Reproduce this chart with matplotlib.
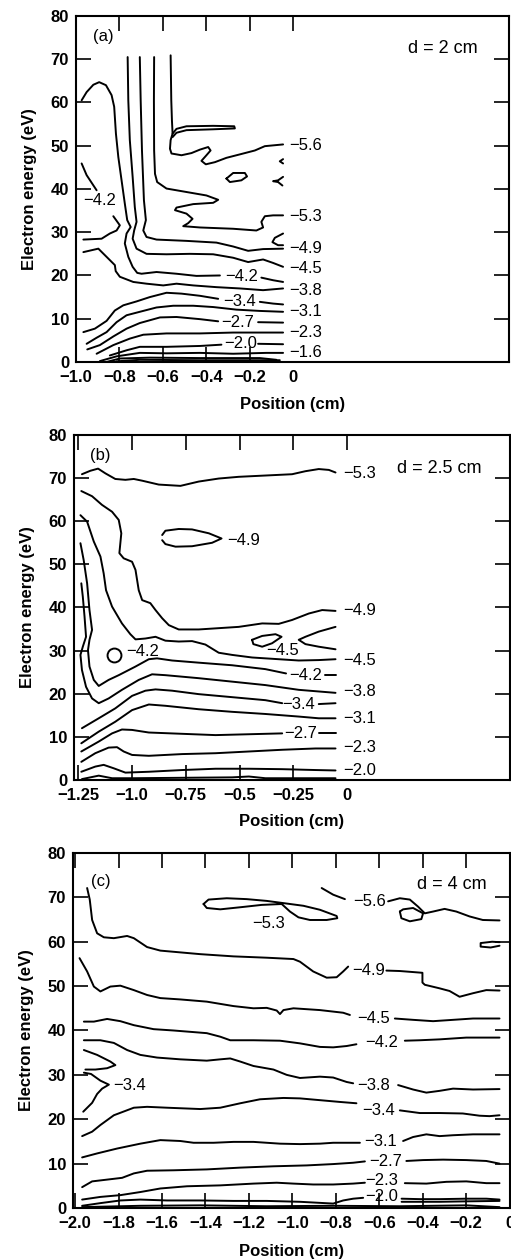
import matplotlib
matplotlib.use('Agg')
import matplotlib.pyplot as plt
from matplotlib.ticker import FixedLocator

plt.rcParams['font.family'] = ['Liberation Sans', 'DejaVu Sans']

MINUS = '\u2212'

# ---------------- (a) d = 2 cm ----------------
a_m56_x = [-0.564, -0.561, -0.558, -0.555, -0.564, -0.567, -0.560, -0.514, -0.468, -0.429, -0.391,
           -0.380, -0.399, -0.422, -0.402, -0.360, -0.307, -0.245, -0.176, -0.130, -0.046]
a_m56_y = [70.9, 60.5, 55.9, 52.8, 51.3, 49.3, 48.2, 47.8, 48.3, 49.1, 49.7,
           48.9, 47.8, 46.5, 45.7, 46.2, 47.2, 48.0, 48.9, 49.9, 50.3]
a_m56_loop_x = [-0.555, -0.537, -0.491, -0.368, -0.271, -0.268, -0.368, -0.491, -0.537, -0.555]
a_m56_loop_y = [52.8, 53.9, 54.5, 54.6, 54.5, 54.0, 53.8, 53.6, 53.0, 52.0]
a_oval_x = [-0.307, -0.276, -0.222, -0.212, -0.238, -0.291, -0.307]
a_oval_y = [42.4, 43.7, 43.7, 42.9, 42.0, 41.6, 42.4]
a_hook1_x = [-0.046, -0.061, -0.046]
a_hook1_y = [46.9, 46.4, 45.9]
a_hook2_x = [-0.046, -0.069, -0.092, -0.069, -0.049]
a_hook2_y = [42.8, 42.0, 41.8, 41.6, 40.8]
a_hook3_x = [-0.046, -0.084, -0.095, -0.069, -0.046]
a_hook3_y = [29.7, 28.7, 27.7, 27.0, 27.0]
a_m53_x = [-0.640, -0.641, -0.640, -0.636, -0.626, -0.583, -0.491, -0.399, -0.345, -0.368, -0.460,
           -0.537, -0.544, -0.491, -0.463, -0.483, -0.506, -0.429, -0.276, -0.169, -0.138, -0.146,
           -0.130, -0.092, -0.046]
a_m53_y = [70.5, 60.5, 48.9, 43.5, 41.6, 40.1, 39.3, 38.5, 37.5, 36.8, 36.5,
           35.7, 35.1, 34.3, 33.1, 32.1, 31.4, 31.1, 30.8, 30.4, 31.1, 32.4,
           33.7, 33.9, 33.9]
a_m49_x = [-0.706, -0.702, -0.696, -0.687, -0.678, -0.690, -0.675, -0.629, -0.491, -0.353, -0.276,
           -0.207, -0.138, -0.046]
a_m49_y = [70.5, 60.5, 48.9, 37.4, 32.8, 30.4, 28.9, 28.3, 28.0, 27.6, 26.7, 25.7, 26.1, 26.2]
a_m45_x = [-0.762, -0.759, -0.752, -0.739, -0.729, -0.721, -0.732, -0.739, -0.721, -0.675, -0.583,
           -0.475, -0.368, -0.276, -0.207, -0.138, -0.092, -0.046]
a_m45_y = [70.5, 60.5, 51.3, 42.8, 35.8, 32.4, 30.4, 28.5, 26.2, 25.0, 24.9,
           25.0, 24.9, 24.1, 23.1, 23.7, 22.9, 22.0]
a_m42_x = [-0.974, -0.951, -0.920, -0.893, -0.862, -0.836, -0.824, -0.816, -0.805, -0.790, -0.775,
           -0.764, -0.748, -0.767, -0.775, -0.759, -0.739, -0.718, -0.698, -0.629, -0.537, -0.445,
           -0.337]
a_m42_y = [60.5, 62.4, 64.1, 64.7, 64.0, 61.7, 59.0, 52.8, 47.4, 42.0, 36.6,
           32.8, 31.2, 29.7, 27.4, 24.3, 22.0, 20.6, 20.4, 20.8, 20.4, 19.9,
           20.0]
a_m42_end_x = [-0.146, -0.092, -0.046]
a_m42_end_y = [19.5, 18.9, 18.5]
a_m42_wall1_x = [-0.974, -0.951, -0.905]
a_m42_wall1_y = [45.9, 43.2, 39.7]
a_m42_wall2_x = [-0.828, -0.798, -0.813, -0.844, -0.882, -0.966]
a_m42_wall2_y = [33.7, 31.6, 30.4, 29.7, 28.5, 28.3]
a_m38_x = [-0.966, -0.897, -0.859, -0.821, -0.817, -0.798, -0.736, -0.675, -0.598, -0.537, -0.460,
           -0.353, -0.245, -0.138, -0.046]
a_m38_y = [25.4, 26.2, 24.3, 22.4, 21.0, 19.7, 18.5, 18.1, 17.7, 18.1, 17.7, 17.3, 17.0, 16.6, 17.0]
a_m34_x = [-0.966, -0.913, -0.859, -0.821, -0.782, -0.721, -0.660, -0.583, -0.514, -0.429, -0.345]
a_m34_y = [6.9, 7.7, 9.5, 11.9, 13.1, 14.0, 15.0, 16.0, 15.8, 15.3, 14.6]
a_m34_end_x = [-0.153, -0.092, -0.046]
a_m34_end_y = [13.9, 13.5, 13.3]
a_m31_x = [-0.951, -0.905, -0.859, -0.813, -0.767, -0.706, -0.629, -0.552, -0.460, -0.368, -0.261,
           -0.153, -0.046]
a_m31_y = [4.2, 5.6, 6.9, 9.2, 10.8, 11.6, 12.6, 13.0, 13.0, 12.7, 12.1, 11.8, 11.6]
a_m27_x = [-0.948, -0.890, -0.828, -0.767, -0.706, -0.613, -0.537, -0.429, -0.345]
a_m27_y = [2.9, 3.9, 5.9, 7.7, 9.0, 10.3, 10.4, 9.9, 9.4]
a_m27_end_x = [-0.161, -0.046]
a_m27_end_y = [9.2, 9.1]
a_m23_x = [-0.905, -0.828, -0.752, -0.690, -0.583, -0.429, -0.276, -0.046]
a_m23_y = [1.9, 3.9, 5.4, 6.3, 6.6, 6.6, 6.8, 6.8]
a_m20_x = [-0.844, -0.767, -0.706, -0.583, -0.429, -0.330]
a_m20_y = [1.5, 2.7, 3.5, 3.5, 3.7, 4.0]
a_m20_end_x = [-0.161, -0.046]
a_m20_end_y = [4.2, 4.1]
a_m16_x = [-0.890, -0.813, -0.706, -0.583, -0.429, -0.276, -0.123, -0.046]
a_m16_y = [0.2, 1.3, 2.1, 2.0, 2.1, 1.9, 2.1, 2.1]
a_m12_x = [-0.859, -0.798, -0.660, -0.429, -0.153, -0.077]
a_m12_y = [0.0, 0.8, 1.0, 0.9, 0.9, 0.5]
a_m08_x = [-0.813, -0.706, -0.429, -0.061]
a_m08_y = [0.15, 0.5, 0.4, 0.4]

A_RIGHT = -0.02
a_labels = [('-5.6', A_RIGHT, 50.1), ('-5.3', A_RIGHT, 33.7), ('-4.9', A_RIGHT, 26.2),
            ('-4.5', A_RIGHT, 21.6), ('-3.8', A_RIGHT, 16.6), ('-3.1', A_RIGHT, 11.6),
            ('-2.3', A_RIGHT, 6.9), ('-1.6', A_RIGHT, 2.1),
            ('-4.2', -0.238, 19.7), ('-3.4', -0.248, 13.9), ('-2.7', -0.253, 9.2),
            ('-2.0', -0.242, 4.2), ('-4.2', -0.893, 37.4)]

# ---------------- (b) d = 2.5 cm ----------------
b_m53_x = [-1.233, -1.194, -1.158, -1.124, -1.078, -1.031, -0.992, -0.953, -0.876, -0.775, -0.690,
           -0.597, -0.504, -0.380, -0.256, -0.194, -0.132, -0.085, -0.054]
b_m53_y = [70.9, 71.7, 72.2, 71.1, 69.8, 69.6, 69.8, 69.4, 68.5, 68.2, 69.2,
           69.9, 70.3, 70.6, 70.9, 71.6, 72.1, 71.9, 71.3]
b_m49_loop_x = [-0.860, -0.845, -0.783, -0.721, -0.643, -0.584, -0.628, -0.721, -0.798, -0.845, -0.860]
b_m49_loop_y = [56.8, 57.8, 58.2, 58.1, 57.2, 56.0, 55.0, 54.2, 54.1, 54.7, 55.6]
b_m49_x = [-1.236, -1.186, -1.140, -1.093, -1.062, -1.050, -1.059, -1.039, -1.000, -0.984, -0.969,
           -0.953, -0.915, -0.891, -0.860, -0.829, -0.783, -0.690, -0.597, -0.504, -0.395, -0.318,
           -0.256, -0.178, -0.116, -0.054]
b_m49_y = [67.0, 65.8, 63.8, 62.2, 60.3, 57.2, 52.6, 51.4, 50.6, 48.7, 44.0,
           41.7, 41.0, 39.4, 37.5, 35.9, 34.9, 34.9, 35.2, 35.5, 36.3, 36.2,
           37.1, 38.6, 39.4, 39.2]
b_m45_x = [-1.240, -1.209, -1.178, -1.147, -1.132, -1.121, -1.093, -1.047, -1.008, -0.984, -0.938,
           -0.891, -0.845, -0.783, -0.721, -0.659, -0.597, -0.535, -0.442, -0.318, -0.225, -0.132,
           -0.054]
b_m45_y = [61.4, 59.9, 55.3, 51.8, 47.9, 44.0, 40.2, 36.3, 33.8, 32.6, 32.8,
           33.2, 32.3, 32.1, 32.2, 31.4, 29.5, 29.0, 28.4, 28.0, 27.7, 27.8,
           28.0]
b_m45_loop_x = [-0.442, -0.395, -0.333, -0.305, -0.349, -0.395, -0.436, -0.442]
b_m45_loop_y = [32.5, 33.4, 33.8, 33.2, 31.7, 30.9, 31.5, 32.5]
b_m45_tip_x = [-0.054, -0.132, -0.194, -0.225, -0.194, -0.132, -0.054]
b_m45_tip_y = [35.5, 34.4, 33.2, 32.5, 31.5, 30.9, 30.3]
b_m42_ring_x0, b_m42_ring_y0 = -1.085, 29.0
b_m42_x = [-1.240, -1.225, -1.209, -1.198, -1.186, -1.198, -1.205, -1.198, -1.178, -1.155, -1.109,
           -1.062, -0.984, -0.922, -0.884, -0.814, -0.690, -0.535, -0.380, -0.284]
b_m42_y = [54.9, 51.0, 45.6, 39.4, 34.8, 32.5, 30.1, 26.3, 23.2, 21.8, 23.2,
           24.3, 26.3, 28.0, 28.2, 27.7, 27.2, 26.6, 25.7, 24.7]
b_m42_end_x = [-0.101, -0.054]
b_m42_end_y = [24.3, 24.3]
b_m38_x = [-1.236, -1.229, -1.221, -1.214, -1.229, -1.240, -1.233, -1.214, -1.186, -1.155, -1.109,
           -1.047, -0.969, -0.907, -0.845, -0.690, -0.535, -0.380, -0.225, -0.054]
b_m38_y = [45.6, 42.5, 37.9, 33.2, 30.9, 29.0, 25.5, 21.6, 18.9, 17.8, 18.9,
           20.9, 23.2, 24.5, 24.3, 23.6, 22.8, 22.0, 20.9, 20.2]
b_m34_x = [-1.233, -1.155, -1.078, -1.000, -0.938, -0.891, -0.814, -0.690, -0.535, -0.380, -0.302]
b_m34_y = [12.0, 14.3, 16.6, 19.5, 20.7, 21.0, 20.7, 19.9, 19.2, 18.5, 17.8]
b_m34_end_x = [-0.132, -0.054]
b_m34_end_y = [17.6, 17.8]
b_m31_x = [-1.236, -1.155, -1.078, -1.000, -0.922, -0.845, -0.690, -0.535, -0.380, -0.225, -0.132,
           -0.054]
b_m31_y = [8.5, 11.2, 13.5, 16.2, 17.5, 17.2, 16.4, 15.8, 15.3, 14.7, 14.3, 14.3]
b_m27_x = [-1.236, -1.155, -1.093, -1.047, -1.000, -0.922, -0.767, -0.612, -0.457, -0.302]
b_m27_y = [6.6, 8.9, 10.8, 11.7, 11.6, 11.0, 10.7, 10.4, 10.6, 10.8]
b_m27_end_x = [-0.132, -0.054]
b_m27_end_y = [10.8, 10.8]
b_m23_x = [-1.236, -1.171, -1.109, -1.070, -1.039, -1.000, -0.922, -0.767, -0.612, -0.457, -0.302,
           -0.147, -0.054]
b_m23_y = [4.2, 6.2, 7.5, 7.6, 6.6, 5.8, 5.6, 6.0, 6.2, 6.6, 7.0, 7.3, 7.3]
b_m20_x = [-1.236, -1.171, -1.132, -1.085, -1.031, -0.922, -0.767, -0.612, -0.457, -0.302, -0.147,
           -0.054]
b_m20_y = [1.9, 3.1, 3.5, 2.7, 1.7, 1.9, 2.3, 2.6, 2.6, 2.5, 2.3, 2.2]
b_m16_x = [-1.233, -1.155, -1.093, -1.000, -0.535, -0.457, -0.380, -0.054]
b_m16_y = [0.2, 1.0, 0.4, 0.4, 0.6, 0.8, 0.4, 0.4]

B_RIGHT = -0.02
b_labels = [('-5.3', B_RIGHT, 71.1), ('-4.9', B_RIGHT, 39.4), ('-4.5', B_RIGHT, 27.8),
            ('-3.8', B_RIGHT, 20.5), ('-3.1', B_RIGHT, 14.3), ('-2.3', B_RIGHT, 7.6),
            ('-2.0', B_RIGHT, 2.3),
            ('-4.9', -0.48, 55.6), ('-4.2', -0.950, 29.8), ('-4.5', -0.302, 30.0),
            ('-4.2', -0.194, 24.3), ('-3.4', -0.225, 17.4), ('-2.7', -0.217, 10.8)]

# ---------------- (c) d = 4 cm ----------------
c_m56_x = [-0.865, -0.812, -0.758]
c_m56_y = [72.1, 70.6, 69.6]
c_m56_end_x = [-0.559, -0.505, -0.459, -0.421, -0.390, -0.352, -0.299, -0.245, -0.184, -0.123, -0.046]
c_m56_end_y = [69.1, 69.8, 69.5, 67.9, 66.4, 66.8, 67.4, 66.8, 65.7, 64.9, 64.8]
c_m56_loop_x = [-0.505, -0.490, -0.444, -0.398, -0.406, -0.459, -0.498, -0.505]
c_m56_loop_y = [66.8, 67.3, 67.6, 66.4, 65.1, 64.6, 65.3, 66.8]
c_m56_hook_x = [-0.046, -0.080, -0.133, -0.133, -0.087, -0.046]
c_m56_hook_y = [59.9, 60.0, 59.7, 58.9, 58.7, 59.1]
c_m53_x = [-1.409, -1.386, -1.302, -1.210, -1.118, -1.041, -0.949, -0.873, -0.796, -0.793, -0.842,
           -0.919, -0.972, -1.011, -1.049, -1.141, -1.234, -1.332, -1.394, -1.409]
c_m53_y = [68.5, 69.5, 69.8, 69.6, 69.2, 68.7, 68.1, 67.2, 65.8, 65.3, 64.9,
           64.9, 65.5, 66.8, 68.5, 68.3, 67.8, 67.3, 67.6, 68.5]
c_m49_x = [-1.945, -1.933, -1.922, -1.899, -1.868, -1.822, -1.761, -1.730, -1.669, -1.608, -1.516,
           -1.424, -1.271, -1.118, -0.995, -0.965, -0.904, -0.842, -0.796, -0.766, -0.743]
c_m49_y = [72.1, 69.5, 64.9, 61.9, 61.0, 60.8, 61.3, 60.8, 58.8, 58.0, 57.6,
           57.2, 56.7, 56.4, 56.1, 55.5, 53.3, 51.9, 52.0, 53.3, 54.4]
c_m49_end_x = [-0.567, -0.505, -0.401, -0.401, -0.390, -0.322, -0.276, -0.230, -0.168, -0.107, -0.046]
c_m49_end_y = [53.5, 53.4, 53.0, 50.8, 50.3, 49.5, 48.9, 47.6, 48.4, 49.1, 49.0]
c_m45_x = [-1.980, -1.945, -1.914, -1.884, -1.838, -1.792, -1.730, -1.669, -1.608, -1.516, -1.394,
           -1.271, -1.179, -1.118, -1.072, -1.057, -1.041, -0.995, -0.873, -0.766, -0.735]
c_m45_y = [56.3, 53.3, 49.9, 48.8, 49.9, 50.1, 49.1, 48.0, 47.3, 47.0, 46.5,
           45.5, 45.0, 45.1, 44.5, 43.7, 44.6, 45.0, 44.6, 44.0, 43.5]
c_m45_end_x = [-0.528, -0.444, -0.352, -0.260, -0.168, -0.046]
c_m45_end_y = [42.7, 42.4, 42.1, 42.4, 42.7, 42.7]
c_m42_x = [-1.960, -1.914, -1.853, -1.792, -1.730, -1.639, -1.547, -1.394, -1.332, -1.286, -1.179,
           -1.057, -0.965, -0.873, -0.812, -0.750, -0.705]
c_m42_y = [42.0, 42.0, 42.6, 42.1, 41.2, 40.3, 40.0, 39.4, 38.6, 37.8, 37.8,
           37.7, 37.1, 36.3, 36.2, 36.5, 36.9]
c_m42_end_x = [-0.482, -0.413, -0.322, -0.199, -0.046]
c_m42_end_y = [37.7, 37.8, 38.0, 38.4, 38.4]
c_m38_x = [-1.960, -1.884, -1.822, -1.761, -1.700, -1.623, -1.516, -1.394, -1.332, -1.286, -1.240,
           -1.179, -1.087, -1.026, -0.965, -0.873, -0.812, -0.750, -0.720]
c_m38_y = [37.8, 37.8, 37.2, 35.6, 34.5, 33.9, 33.5, 33.2, 33.5, 33.7, 33.0,
           32.0, 31.2, 30.0, 29.3, 29.6, 29.4, 28.4, 28.1]
c_m38_end_x = [-0.513, -0.444, -0.383, -0.322, -0.260, -0.168, -0.046]
c_m38_end_y = [27.7, 26.7, 26.0, 26.4, 26.9, 26.7, 26.8]
c_m34_lobe_x = [-1.960, -1.899, -1.838, -1.815, -1.853, -1.907, -1.953]
c_m34_lobe_y = [35.6, 34.5, 33.0, 32.2, 31.5, 31.2, 31.2]
c_m34_wall_x = [-1.960, -1.927, -1.884, -1.845, -1.876, -1.899, -1.922, -1.963]
c_m34_wall_y = [30.5, 30.2, 28.7, 27.8, 26.9, 25.7, 23.7, 21.7]
c_m34_x = [-1.968, -1.922, -1.884, -1.822, -1.730, -1.669, -1.577, -1.424, -1.332, -1.240, -1.149,
           -1.041, -0.965, -0.873, -0.781, -0.705]
c_m34_y = [16.2, 17.2, 18.7, 20.9, 22.6, 22.8, 22.6, 22.3, 22.6, 23.6, 24.5,
           24.8, 24.7, 24.3, 23.9, 23.6]
c_m34_end_x = [-0.505, -0.413, -0.322, -0.215, -0.138, -0.092, -0.046]
c_m34_end_y = [22.0, 21.4, 21.4, 21.3, 20.8, 20.7, 20.9]
c_m31_x = [-1.968, -1.899, -1.807, -1.700, -1.608, -1.516, -1.455, -1.363, -1.271, -1.179, -1.057,
           -0.965, -0.873, -0.812, -0.689]
c_m31_y = [11.4, 12.3, 13.4, 14.5, 15.3, 15.1, 14.7, 14.7, 14.9, 14.9, 14.5,
           14.4, 14.5, 14.7, 14.7]
c_m31_end_x = [-0.490, -0.444, -0.383, -0.322, -0.260, -0.168, -0.046]
c_m31_end_y = [15.1, 16.0, 16.6, 16.2, 16.4, 16.6, 16.6]
c_m27_x = [-1.968, -1.922, -1.853, -1.784, -1.730, -1.669, -1.547, -1.394, -1.240, -1.087, -0.934,
           -0.812, -0.720, -0.666]
c_m27_y = [4.7, 6.0, 6.4, 6.8, 7.8, 8.4, 8.5, 8.7, 9.1, 9.4, 9.6,
           9.9, 10.2, 10.5]
c_m27_end_x = [-0.475, -0.398, -0.306, -0.199, -0.107, -0.046]
c_m27_end_y = [10.6, 10.8, 10.9, 10.8, 10.6, 10.0]
c_m23_x = [-1.968, -1.884, -1.792, -1.700, -1.608, -1.485, -1.332, -1.179, -1.072, -0.995, -0.904,
           -0.812, -0.720, -0.666]
c_m23_y = [1.9, 2.5, 2.9, 3.6, 4.4, 4.9, 5.1, 5.5, 5.7, 5.5, 5.3,
           5.3, 5.5, 5.7]
c_m23_end_x = [-0.482, -0.383, -0.291, -0.199, -0.107, -0.046]
c_m23_end_y = [5.6, 5.5, 5.9, 6.0, 5.6, 5.6]
c_m20_x = [-1.968, -1.884, -1.792, -1.700, -1.577, -1.424, -1.271, -1.118, -0.965, -0.812, -0.766,
           -0.720, -0.674]
c_m20_y = [0.5, 1.1, 1.7, 1.9, 1.7, 1.7, 1.6, 1.6, 1.4, 1.0, 1.7,
           2.1, 2.3]
c_m20_end_x = [-0.497, -0.413, -0.322, -0.199, -0.107, -0.046]
c_m20_end_y = [2.1, 2.0, 2.0, 2.1, 2.1, 1.9]
c_m16_x = [-0.497, -0.322, -0.199, -0.046]
c_m16_y = [1.4, 1.4, 1.5, 1.6]
c_m12_x = [-1.968, -1.700, -1.424, -1.118, -0.812, -0.505, -0.199, -0.046]
c_m12_y = [0.2, 0.5, 0.6, 0.4, 0.5, 0.4, 0.6, 0.2]

c_labels = [('-5.6', -0.643, 69.1), ('-5.3', -1.110, 64.2), ('-4.9', -0.651, 53.6),
            ('-4.5', -0.628, 42.7), ('-4.2', -0.590, 37.2), ('-3.8', -0.625, 27.7),
            ('-3.4', -1.749, 27.7), ('-3.4', -0.602, 22.0), ('-3.1', -0.594, 15.0),
            ('-2.7', -0.571, 10.4), ('-2.3', -0.590, 6.1), ('-2.0', -0.590, 2.6)]

y_ticks = [0, 10, 20, 30, 40, 50, 60, 70, 80]


def fmt(v):
    return v.replace('-', MINUS)


def setup_axes(ax, xlim, xticks, xticklabels, tag, tag_xy, dlabel, dlabel_xy):
    ax.set_xlim(*xlim)
    ax.set_ylim(0, 80)
    ax.xaxis.set_major_locator(FixedLocator(xticks))
    ax.set_xticklabels([fmt(t) for t in xticklabels], fontsize=12, fontweight='bold')
    ax.yaxis.set_major_locator(FixedLocator(y_ticks))
    ax.set_yticklabels([str(t) for t in y_ticks], fontsize=12, fontweight='bold')
    ax.tick_params(direction='in', length=11, width=1.2, top=True, right=True, pad=6)
    ax.tick_params(axis='y', pad=5)
    for sp in ax.spines.values():
        sp.set_linewidth(1.5)
    ax.set_xlabel('Position (cm)', fontsize=12, fontweight='bold')
    ax.set_ylabel('Electron energy (eV)', fontsize=12, fontweight='bold')
    ax.xaxis.set_label_coords(0.5, -0.10)
    ax.yaxis.set_label_coords(-0.09, 0.5)
    ax.text(tag_xy[0], tag_xy[1], tag, fontsize=12, ha='center', va='center')
    ax.text(dlabel_xy[0], dlabel_xy[1], dlabel, fontsize=13, ha='center', va='center')


def draw_lines(ax, lines):
    for xs, ys in lines:
        ax.plot(xs, ys, color='black', lw=1.4, solid_joinstyle='round', solid_capstyle='round')


def draw_labels(ax, labels, right_x):
    for txt, x, y in labels:
        ha = 'left' if x == right_x else 'center'
        ax.text(x, y, fmt(txt), fontsize=12, ha=ha, va='center')


fig = plt.figure(figsize=(5.11, 12.59), dpi=100)

# panel (a)
ax_a = fig.add_axes([0.1487, 0.7125, 0.8483, 0.2748])
setup_axes(ax_a, (-1.0, 0.997), [-1.0, -0.8, -0.6, -0.4, -0.2, 0.0],
           ['-1.0', '-0.8', '-0.6', '-0.4', '-0.2', '0'],
           '(a)', (-0.874, 75.3), 'd = 2 cm', (0.690, 72.4))
a_lines = [(a_m56_x, a_m56_y), (a_m56_loop_x, a_m56_loop_y), (a_oval_x, a_oval_y),
           (a_hook1_x, a_hook1_y), (a_hook2_x, a_hook2_y), (a_hook3_x, a_hook3_y),
           (a_m53_x, a_m53_y), (a_m49_x, a_m49_y), (a_m45_x, a_m45_y),
           (a_m42_x, a_m42_y), (a_m42_end_x, a_m42_end_y),
           (a_m42_wall1_x, a_m42_wall1_y), (a_m42_wall2_x, a_m42_wall2_y),
           (a_m38_x, a_m38_y), (a_m34_x, a_m34_y), (a_m34_end_x, a_m34_end_y),
           (a_m31_x, a_m31_y), (a_m27_x, a_m27_y), (a_m27_end_x, a_m27_end_y),
           (a_m23_x, a_m23_y), (a_m20_x, a_m20_y), (a_m20_end_x, a_m20_end_y),
           (a_m16_x, a_m16_y), (a_m12_x, a_m12_y), (a_m08_x, a_m08_y)]
draw_lines(ax_a, a_lines)
draw_labels(ax_a, a_labels, A_RIGHT)
# the bottom tick at 0 would run through the right-hand labels
ax_a.xaxis.get_major_ticks()[-1].tick1line.set_visible(False)

# panel (b)
ax_b = fig.add_axes([0.1448, 0.3805, 0.8523, 0.2740])
setup_axes(ax_b, (-1.27, 0.755), [-1.25, -1.0, -0.75, -0.5, -0.25, 0.0],
           ['-1.25', '-1.0', '-0.75', '-0.5', '-0.25', '0'],
           '(b)', (-1.147, 75.3), 'd = 2.5 cm', (0.430, 72.3))
b_lines = [(b_m53_x, b_m53_y), (b_m49_loop_x, b_m49_loop_y), (b_m49_x, b_m49_y),
           (b_m45_x, b_m45_y), (b_m45_loop_x, b_m45_loop_y), (b_m45_tip_x, b_m45_tip_y),
           (b_m42_x, b_m42_y), (b_m42_end_x, b_m42_end_y), (b_m38_x, b_m38_y),
           (b_m34_x, b_m34_y), (b_m34_end_x, b_m34_end_y), (b_m31_x, b_m31_y),
           (b_m27_x, b_m27_y), (b_m27_end_x, b_m27_end_y), (b_m23_x, b_m23_y),
           (b_m20_x, b_m20_y), (b_m16_x, b_m16_y)]
draw_lines(ax_b, b_lines)
ax_b.plot([b_m42_ring_x0], [b_m42_ring_y0], marker='o', ms=10, mfc='none', mec='black', mew=1.4)
draw_labels(ax_b, b_labels, B_RIGHT)
ax_b.xaxis.get_major_ticks()[-1].tick1line.set_visible(False)

# panel (c)
ax_c = fig.add_axes([0.1429, 0.0405, 0.8542, 0.2820])
c_ticks = [-2.0, -1.8, -1.6, -1.4, -1.2, -1.0, -0.8, -0.6, -0.4, -0.2, 0.0]
setup_axes(ax_c, (-2.01, 0.0), c_ticks,
           ['-2.0', '-1.8', '-1.6', '-1.4', '-1.2', '-1.0', '-0.8', '-0.6', '-0.4', '-0.2', '0'],
           '(c)', (-1.884, 73.6), 'd = 4 cm', (-0.268, 72.8))
c_lines = [(c_m56_x, c_m56_y), (c_m56_end_x, c_m56_end_y), (c_m56_loop_x, c_m56_loop_y),
           (c_m56_hook_x, c_m56_hook_y), (c_m53_x, c_m53_y), (c_m49_x, c_m49_y),
           (c_m49_end_x, c_m49_end_y), (c_m45_x, c_m45_y), (c_m45_end_x, c_m45_end_y),
           (c_m42_x, c_m42_y), (c_m42_end_x, c_m42_end_y), (c_m38_x, c_m38_y),
           (c_m38_end_x, c_m38_end_y), (c_m34_lobe_x, c_m34_lobe_y), (c_m34_wall_x, c_m34_wall_y),
           (c_m34_x, c_m34_y), (c_m34_end_x, c_m34_end_y), (c_m31_x, c_m31_y),
           (c_m31_end_x, c_m31_end_y), (c_m27_x, c_m27_y), (c_m27_end_x, c_m27_end_y),
           (c_m23_x, c_m23_y), (c_m23_end_x, c_m23_end_y), (c_m20_x, c_m20_y),
           (c_m20_end_x, c_m20_end_y), (c_m16_x, c_m16_y), (c_m12_x, c_m12_y)]
draw_lines(ax_c, c_lines)
draw_labels(ax_c, c_labels, None)

fig.savefig('out.png', dpi=100)
